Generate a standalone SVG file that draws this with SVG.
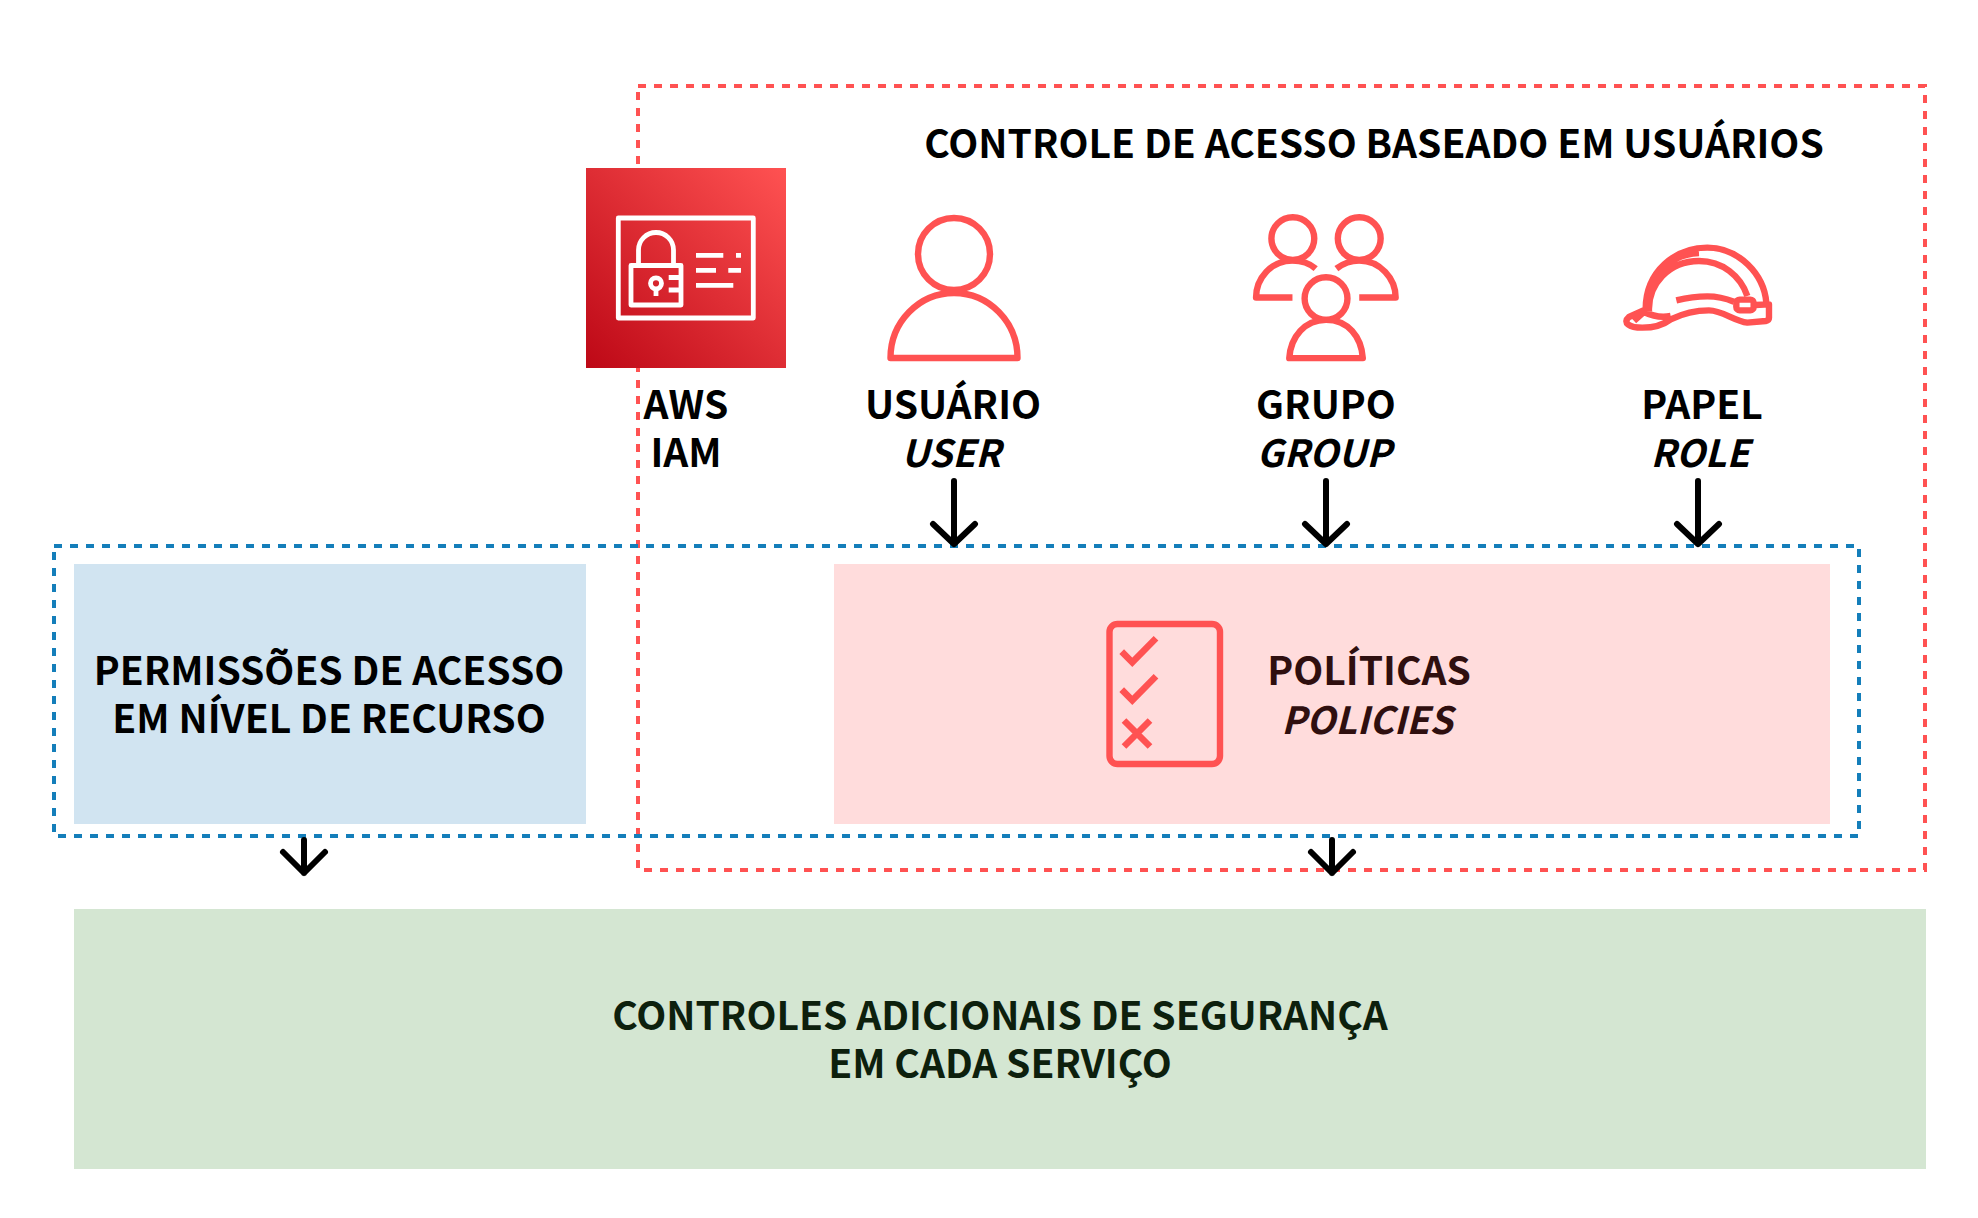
<svg xmlns="http://www.w3.org/2000/svg" width="1978" height="1218" viewBox="0 0 1978 1218">
<defs>
<linearGradient id="iam" x1="0" y1="1" x2="1" y2="0"><stop offset="0" stop-color="#bd0816"/><stop offset="1" stop-color="#ff5252"/></linearGradient>
<g id="arrow"><path d="M0 0V63M-21 43L0 63L21 43" class="arr"/></g>
</defs>
<style>
text{font-family:"Noto Sans CJK SC","Noto Sans",sans-serif;font-weight:700;font-size:39px;text-anchor:middle;fill:#000}
.i{font-style:italic;font-size:37.5px}
.dash{fill:none;stroke-width:4;stroke-dasharray:8 8}
.arr{fill:none;stroke:#000;stroke-width:6;stroke-linecap:round;stroke-linejoin:round}
.ic{fill:none;stroke:#ff5252;stroke-width:6.4;stroke-linejoin:round}
.ns{vector-effect:non-scaling-stroke}
.w{fill:none;stroke:#fff;stroke-width:4.8;stroke-linejoin:round}
</style>
<rect width="1978" height="1218" fill="#fff"/>
<g id="user-based-frame"><rect x="638" y="86" width="1287" height="784" class="dash" stroke="#ff5252"/></g>
<g id="resource-box"><rect x="74" y="564" width="512" height="260" fill="#d1e4f1"/>
<text x="329" y="685">PERMISSÕES DE ACESSO</text><text x="329" y="733">EM NÍVEL DE RECURSO</text></g>
<g id="policies-box"><rect x="834" y="564" width="996" height="260" fill="#ffdcdc"/>
<rect x="1109.5" y="624" width="110.5" height="140" rx="8" fill="none" stroke="#ff5252" stroke-width="6.4"/>
<path d="M1121.7 651.7L1132.3 662.3L1156 638.3M1121.7 689.7L1132.3 700.3L1156 676.3M1124 720.5L1150 746.5M1150 720.5L1124 746.5" fill="none" stroke="#ff5252" stroke-width="6.6"/>
<text x="1369" y="685" style="fill:#2f0f0f">POLÍTICAS</text><text x="1367" y="734" class="i" style="fill:#2f0f0f">POLICIES</text></g>
<g id="blue-frame"><rect x="54" y="546" width="1805" height="290" class="dash" stroke="#147eba"/></g>
<g id="extra-controls"><rect x="74" y="909" width="1852" height="260" fill="#d4e6d2"/>
<text x="1000" y="1030" style="fill:#0d200d">CONTROLES ADICIONAIS DE SEGURANÇA</text><text x="1000" y="1078" style="fill:#0d200d">EM CADA SERVIÇO</text></g>
<g id="title"><text x="1374" y="158">CONTROLE DE ACESSO BASEADO EM USUÁRIOS</text></g>
<g id="aws-iam"><rect x="586" y="168" width="200" height="200" fill="url(#iam)"/>
<rect x="618.3" y="218" width="135" height="100" class="w"/>
<path d="M638.5 265V250a17.5 17.5 0 0 1 35 0V265M631 265.5H681V305H631ZM668.7 277.5H681M668.7 290H681M696 255.3H723.3M736 255.3H741M696 270.3H716M728.3 270.3H741M696 285.3H733.3" class="w"/>
<circle cx="656" cy="283.3" r="5.5" class="w"/><path d="M656 289V296" class="w"/>
<text x="686" y="419">AWS</text><text x="686" y="467">IAM</text></g>
<g id="user"><circle cx="954" cy="254" r="36" class="ic"/>
<path d="M890.5 358A63.5 65 0 0 1 1017.5 358Z" class="ic"/>
<text x="953" y="419">USUÁRIO</text><text x="951" y="467" class="i">USER</text></g>
<g id="group"><g transform="translate(1230 190) scale(.357 .333)"><ellipse cx="176" cy="146" rx="60" ry="64" class="ic ns"/><ellipse cx="362" cy="146" rx="60" ry="64" class="ic ns"/><ellipse cx="269" cy="326" rx="60" ry="64" class="ic ns"/>
<path class="ic ns" d="M175 323H73C73 265 115 212 175 212C200 212 225 222 240 236M362 323H464C464 265 420 212 362 212C340 212 315 222 298 236M166 505C170 440 210 390 269 390C330 390 368 440 372 505Z"/></g>
<text x="1326" y="419">GRUPO</text><text x="1324" y="467" class="i">GROUP</text></g>
<g id="role"><g transform="translate(1619 241) scale(.3333)"><path class="ic ns" d="M80 205C80 90 170 20 265 20C360 20 435 100 442 185M90 212C86 130 150 60 240 60C310 60 365 105 385 165M120 100C150 55 195 38 240 36M80 205L30 228C10 245 30 260 70 260C110 260 135 250 155 235C190 218 230 208 270 208C310 208 345 240 385 245L440 240Q450 238 450 230V190L408 192M45 240L75 213C100 225 130 230 155 225M172 178C205 170 240 166 265 166C295 166 320 172 345 182"/><rect x="352" y="176" width="52" height="32" rx="10" class="ic ns"/></g>
<text x="1702" y="419">PAPEL</text><text x="1700" y="467" class="i">ROLE</text></g>
<g id="connectors">
<use href="#arrow" x="954" y="481"/><use href="#arrow" x="1326" y="481"/><use href="#arrow" x="1698" y="481"/>
<path d="M304 840V873M283 852L304 873L325 852" class="arr"/><path d="M1332 840V873M1311 852L1332 873L1353 852" class="arr"/>
</g>
</svg>
